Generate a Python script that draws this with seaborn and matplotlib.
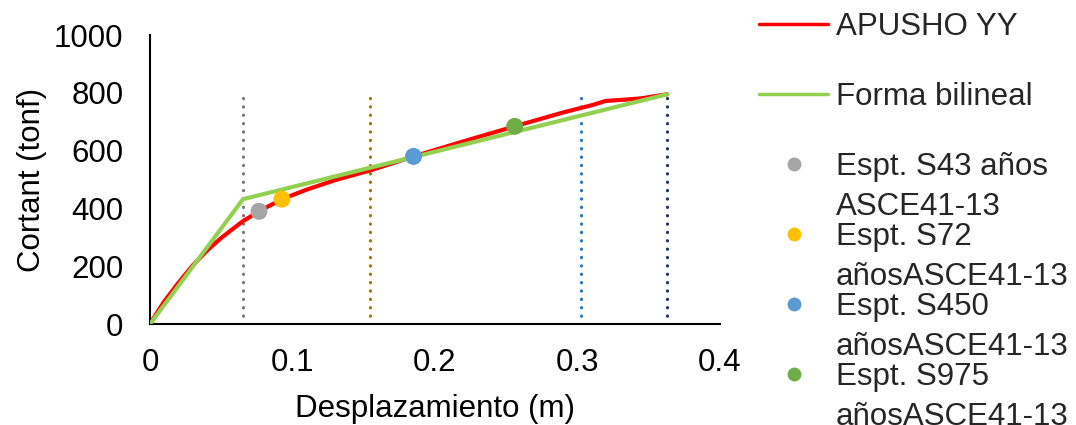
import numpy as np
import pandas as pd
import matplotlib
matplotlib.use("Agg")
import matplotlib.pyplot as plt
import seaborn as sns
from matplotlib.legend_handler import HandlerLine2D
from matplotlib.lines import Line2D

# ---- data ----
disp_pushover = [0, 0.005, 0.01, 0.02, 0.03, 0.04, 0.05, 0.065, 0.0765, 0.0926,
                 0.11, 0.13, 0.155, 0.185, 0.22, 0.256, 0.29, 0.31, 0.32, 0.335, 0.345, 0.363]
shear_pushover = [0, 40, 78, 143, 203, 254, 298, 355, 390, 432,
                  465, 498, 532, 580, 632, 684, 732, 757, 772, 777, 781, 795]
disp_bilinear = [0, 0.0653, 0.363]
shear_bilinear = [0, 432, 795]
pt_labels = ["Espt. S43 años\nASCE41-13", "Espt. S72\nañosASCE41-13",
             "Espt. S450\nañosASCE41-13", "Espt. S975\nañosASCE41-13"]
pt_disp = [0.0765, 0.0926, 0.185, 0.256]
pt_shear = [390, 432, 580, 684]
pt_colors = ["#a5a5a5", "#ffc000", "#5b9bd5", "#70ad47"]
vline_x = [0.0653, 0.1544, 0.3025, 0.363]
vline_top = [785, 785, 785, 785]
vline_colors = ["#7a7a7a", "#9c7a00", "#2e75b6", "#1f3864"]
x_ticks = [0, 0.1, 0.2, 0.3, 0.4]
x_ticklabels = ["0", "0.1", "0.2", "0.3", "0.4"]
y_ticks = [0, 200, 400, 600, 800, 1000]

sns.set_theme(style="white")
plt.rcParams["font.family"] = ["Liberation Sans", "DejaVu Sans"]
FS = 22.5

fig = plt.figure(figsize=(10.76, 4.25), dpi=100)
ax = fig.add_axes([0.1394, 0.2376, 0.5296, 0.68])

for x, top, c in zip(vline_x, vline_top, vline_colors):
    ax.vlines(x, 0, top, colors=c, linewidth=2.4, linestyles=[(0, (0.01, 2.5))],
              capstyle="round", zorder=1)

df_p = pd.DataFrame({"d": disp_pushover, "v": shear_pushover})
df_b = pd.DataFrame({"d": disp_bilinear, "v": shear_bilinear})
sns.lineplot(data=df_p, x="d", y="v", ax=ax, color="#ff0000", linewidth=3.0,
             sort=False, estimator=None, zorder=2)
sns.lineplot(data=df_b, x="d", y="v", ax=ax, color="#92d050", linewidth=3.0,
             sort=False, estimator=None, zorder=3)
df_pts = pd.DataFrame({"d": pt_disp, "v": pt_shear, "lab": pt_labels})
sns.scatterplot(data=df_pts, x="d", y="v", hue="lab", palette=pt_colors, ax=ax,
                s=150, edgecolor="none", zorder=4, legend=False)

ax.set_xlim(0, 0.4)
ax.set_ylim(0, 1000)
ax.set_xticks(x_ticks)
ax.set_xticklabels(x_ticklabels)
ax.set_yticks(y_ticks)
ax.tick_params(labelsize=FS, length=0, colors="black")
ax.tick_params(axis="x", pad=17)
ax.tick_params(axis="y", pad=19)
ax.set_xlabel("Desplazamiento (m)", fontsize=FS, color="black", labelpad=12)
ax.set_ylabel("Cortant (tonf)", fontsize=FS, color="black", labelpad=5)
for s in ["top", "right"]:
    ax.spines[s].set_visible(False)
for s in ["left", "bottom"]:
    ax.spines[s].set_color("black")
    ax.spines[s].set_linewidth(1.5)


class UpHandler(HandlerLine2D):
    def __init__(self, shift, **kw):
        super().__init__(**kw)
        self.shift = shift

    def create_artists(self, legend, orig_handle, xdescent, ydescent, width,
                       height, fontsize, trans):
        arts = super().create_artists(legend, orig_handle, xdescent, ydescent,
                                      width, height, fontsize, trans)
        for a in arts:
            a.set_ydata(np.asarray(a.get_ydata()) + self.shift * fontsize)
        return arts


handles = [Line2D([], [], color="#ff0000", linewidth=2.5),
           Line2D([], [], color="#92d050", linewidth=2.5)]
labels = ["APUSHO YY\n", "Forma bilineal\n"]
for lab, c in zip(pt_labels, pt_colors):
    handles.append(Line2D([], [], color=c, marker="o", linestyle="none",
                          markersize=10, markeredgecolor="none"))
    labels.append(lab)
hm = {h: UpHandler(0.75) for h in handles}
leg = fig.legend(handles, labels, loc="upper left", bbox_to_anchor=(0.7056, 0.972),
                 frameon=False, fontsize=FS, handlelength=2.2, handletextpad=0.25,
                 labelspacing=-0.02, borderpad=0.0, borderaxespad=0.0,
                 handler_map=hm)
for t in leg.get_texts():
    t.set_linespacing(1.46)

fig.savefig("out.png", dpi=100)
